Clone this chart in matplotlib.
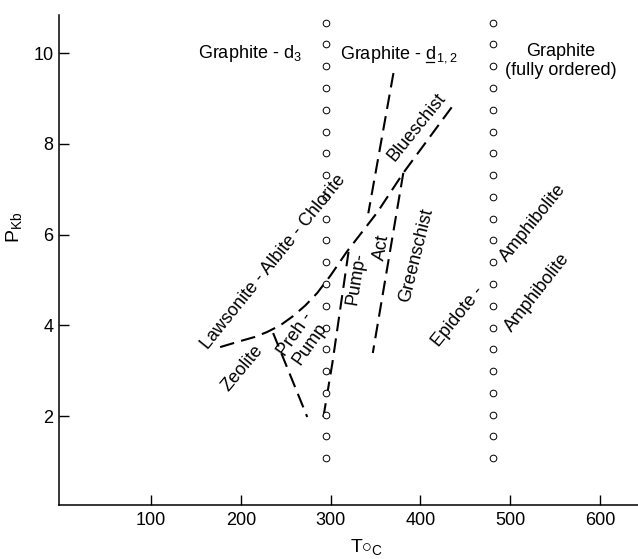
import matplotlib
matplotlib.use("Agg")
import matplotlib.pyplot as plt
from matplotlib.lines import Line2D
from matplotlib.transforms import IdentityTransform

plt.rcParams["font.family"] = ["Liberation Sans", "DejaVu Sans"]
plt.rcParams["mathtext.fontset"] = "custom"
plt.rcParams["mathtext.rm"] = "Liberation Sans"
plt.rcParams["mathtext.it"] = "Liberation Sans"

# graphite crystallinity sample columns (T, P)
col_low_T = 295
col_high_T = 481
col_P = [1.07, 1.55, 2.03, 2.51, 2.99, 3.47, 3.95, 4.43, 4.91, 5.39, 5.87,
         6.35, 6.83, 7.31, 7.79, 8.27, 8.75, 9.23, 9.71, 10.19, 10.67]

# facies boundaries (dashed)
lawsonite_T = [177, 199, 215, 229, 244, 258, 272, 285, 300, 318, 352, 381, 435]
lawsonite_P = [3.52, 3.65, 3.74, 3.85, 4.0, 4.2, 4.44, 4.71, 5.1, 5.62, 6.49, 7.36, 8.81]
blueschist_T = [370, 342]
blueschist_P = [9.56, 6.47]
greenschist_T = [381, 347]
greenschist_P = [7.36, 3.39]
pumpact_T = [320, 302, 292]
pumpact_P = [5.62, 3.17, 1.98]
zeolite_T = [236, 274]
zeolite_P = [3.83, 1.98]

x_ticks = [100, 200, 300, 400, 500, 600]
y_ticks = [2, 4, 6, 8, 10]

fig = plt.figure(figsize=(6.38, 5.59), dpi=100)
ax = fig.add_axes([0.0925, 0.0966, 0.9075, 0.8766])

dash = dict(color="black", linewidth=1.5, linestyle=(0, (7, 3.5)))
for xs, ys in [(lawsonite_T, lawsonite_P), (blueschist_T, blueschist_P),
               (greenschist_T, greenschist_P), (pumpact_T, pumpact_P),
               (zeolite_T, zeolite_P)]:
    ax.plot(xs, ys, **dash)

for t in (col_low_T, col_high_T):
    ax.plot([t] * len(col_P), col_P, linestyle="none", marker="o",
            markersize=4.8, markerfacecolor="white", markeredgecolor="black",
            markeredgewidth=0.7)

fs = 13
txt = dict(fontsize=fs, ha="center", va="center", rotation_mode="anchor")
ax.text(210, 10.0, r"Graphite - d$_3$", **txt)
ax.text(556, 9.82, "Graphite\n(fully ordered)", linespacing=1.15, **txt)
ax.text(236, 5.4, "Lawsonite - Albite - Chlorite", rotation=51, **txt)
ax.text(202, 3.06, "Zeolite", rotation=50, **txt)
ax.text(269, 3.69, "Preh -\nPump", rotation=55, linespacing=1.0, **txt)
ax.text(329, 5.04, "Pump-", rotation=81, **txt)
ax.text(357, 5.72, "Act", rotation=80, **txt)
ax.text(395, 5.55, "Greenschist", rotation=76, **txt)
ax.text(396, 8.37, "Blueschist", rotation=51, **txt)
ax.text(442, 4.2, "Epidote -", rotation=51, **txt)
ax.text(525, 6.25, "Amphibolite", rotation=51, **txt)
ax.text(530, 4.73, "Amphibolite", rotation=52, **txt)

# label with underlined d: measure where the "d" sits and draw a rule under it
gx, gy = 310.5, 9.88
ax.text(gx, gy, r"Graphite - d$_{\,1,2}$", fontsize=fs, ha="left", va="baseline")
pre = ax.text(gx, gy, "Graphite - ", fontsize=fs, ha="left", va="baseline", alpha=0)
upto = ax.text(gx, gy, "Graphite - d", fontsize=fs, ha="left", va="baseline", alpha=0)

ax.set_xlim(-2.4, 642.3)
ax.set_ylim(0.04, 10.84)
ax.set_xticks(x_ticks)
ax.set_yticks(y_ticks)
ax.spines["top"].set_visible(False)
ax.spines["right"].set_visible(False)
for s in ("left", "bottom"):
    ax.spines[s].set_linewidth(1.1)
ax.tick_params(axis="both", direction="in", length=7, width=1, labelsize=fs)
ax.tick_params(axis="x", pad=5)
ax.tick_params(axis="y", pad=4)

ax.text(340, -0.086, r"T$\circ_{\mathrm{C}}$", fontsize=14, ha="center",
        va="center", transform=ax.get_xaxis_transform())
ax.text(-0.078, 6.16, r"P$_{\mathrm{Kb}}$", fontsize=14, ha="center",
        va="center", rotation=90, transform=ax.get_yaxis_transform())

fig.canvas.draw()
r = fig.canvas.get_renderer()
x0 = pre.get_window_extent(r).x1 + 1
x1 = upto.get_window_extent(r).x1 - 1
base = ax.transData.transform((gx, gy))[1]
fig.add_artist(Line2D([x0, x1], [base - 3, base - 3], color="black",
                      linewidth=0.9, transform=IdentityTransform()))

fig.savefig("out.png", dpi=100)
